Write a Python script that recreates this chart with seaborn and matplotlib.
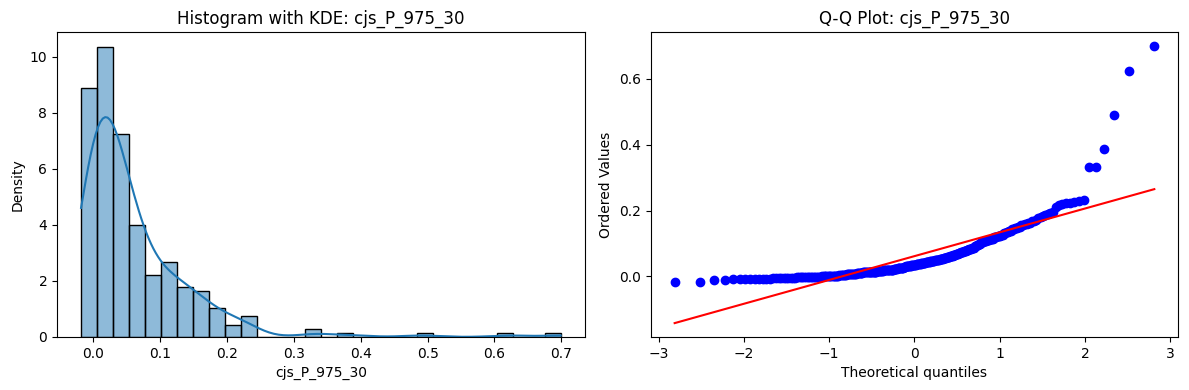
import seaborn as sns
import matplotlib.pyplot as plt
import pandas as pd
import numpy as np
from statistics import NormalDist

# Values of cjs_P_975_30, grouped by value
values = [
    -0.018, -0.016, -0.011, -0.010, -0.009, -0.008, -0.007, -0.006, -0.005,
    -0.004, -0.003, -0.002, -0.001, 0.000, 0.001, 0.002, 0.003, 0.004, 0.005,
    0.006, 0.008, 0.010, 0.012, 0.014, 0.016, 0.018, 0.020, 0.022, 0.024, 0.026, 0.028,
    0.031, 0.034, 0.037, 0.040, 0.043, 0.046, 0.049, 0.052,
    0.055, 0.058, 0.061, 0.064, 0.067, 0.070, 0.073, 0.076,
    0.079, 0.083, 0.087, 0.091, 0.095, 0.099,
    0.103, 0.107, 0.111, 0.115, 0.119, 0.123,
    0.127, 0.131, 0.135, 0.139, 0.143, 0.147,
    0.151, 0.155, 0.159, 0.163, 0.167, 0.171,
    0.176, 0.180, 0.184, 0.187, 0.190, 0.192, 0.195,
    0.212, 0.216, 0.219,
    0.222, 0.224, 0.226, 0.229, 0.233,
    0.333, 0.388, 0.490, 0.623, 0.699,
]
# how many points sit at each value
repeats = [
    1, 1, 1, 1, 3, 3, 3, 3, 3,
    4, 5, 5, 6, 6, 4, 4, 3, 2, 2,
    4, 6, 7, 8, 8, 8, 7, 6, 5, 4, 4, 3,
    7, 7, 6, 6, 6, 6, 6, 5,
    4, 4, 4, 3, 3, 3, 3, 3,
    3, 3, 3, 2, 2, 2,
    3, 3, 3, 3, 3, 3,
    2, 2, 2, 2, 2, 2,
    2, 2, 2, 2, 2, 1,
    1, 1, 1, 1, 1, 1, 1,
    1, 1, 1,
    1, 1, 1, 1, 1,
    2, 1, 1, 1, 1,
]

col = 'cjs_P_975_30'
sample = pd.Series(np.repeat(values, repeats), name=col)

# theoretical quantiles (Filliben order statistic medians, like scipy probplot)
osr = np.sort(sample.values)
n = len(osr)
m = (np.arange(1, n + 1) - 0.3175) / (n + 0.365)
m[-1] = 0.5 ** (1.0 / n)
m[0] = 1 - m[-1]
osm = np.array([NormalDist().inv_cdf(p) for p in m])
slope, intercept = np.polyfit(osm, osr, 1)
qq = pd.DataFrame({'osm': osm, 'osr': osr, 'fit': slope * osm + intercept})

fig, axes = plt.subplots(1, 2, figsize=(11.89, 3.9))
fig.subplots_adjust(left=0.048, right=0.991, top=0.917, bottom=0.136, wspace=0.125)

# Histogram with KDE
sns.histplot(sample, bins=30, kde=True, stat='density', ax=axes[0])
axes[0].set_title(f'Histogram with KDE: {col}')
axes[0].set_xlabel(col)
axes[0].set_ylabel('Density')

# Q-Q plot
sns.scatterplot(data=qq, x='osm', y='osr', color='blue', s=36,
                edgecolor='blue', linewidth=1, ax=axes[1])
sns.lineplot(data=qq, x='osm', y='fit', color='red', ax=axes[1])
axes[1].set_title(f'Q-Q Plot: {col}')
axes[1].set_xlabel('Theoretical quantiles')
axes[1].set_ylabel('Ordered Values')

plt.savefig('out.png', dpi=100)
